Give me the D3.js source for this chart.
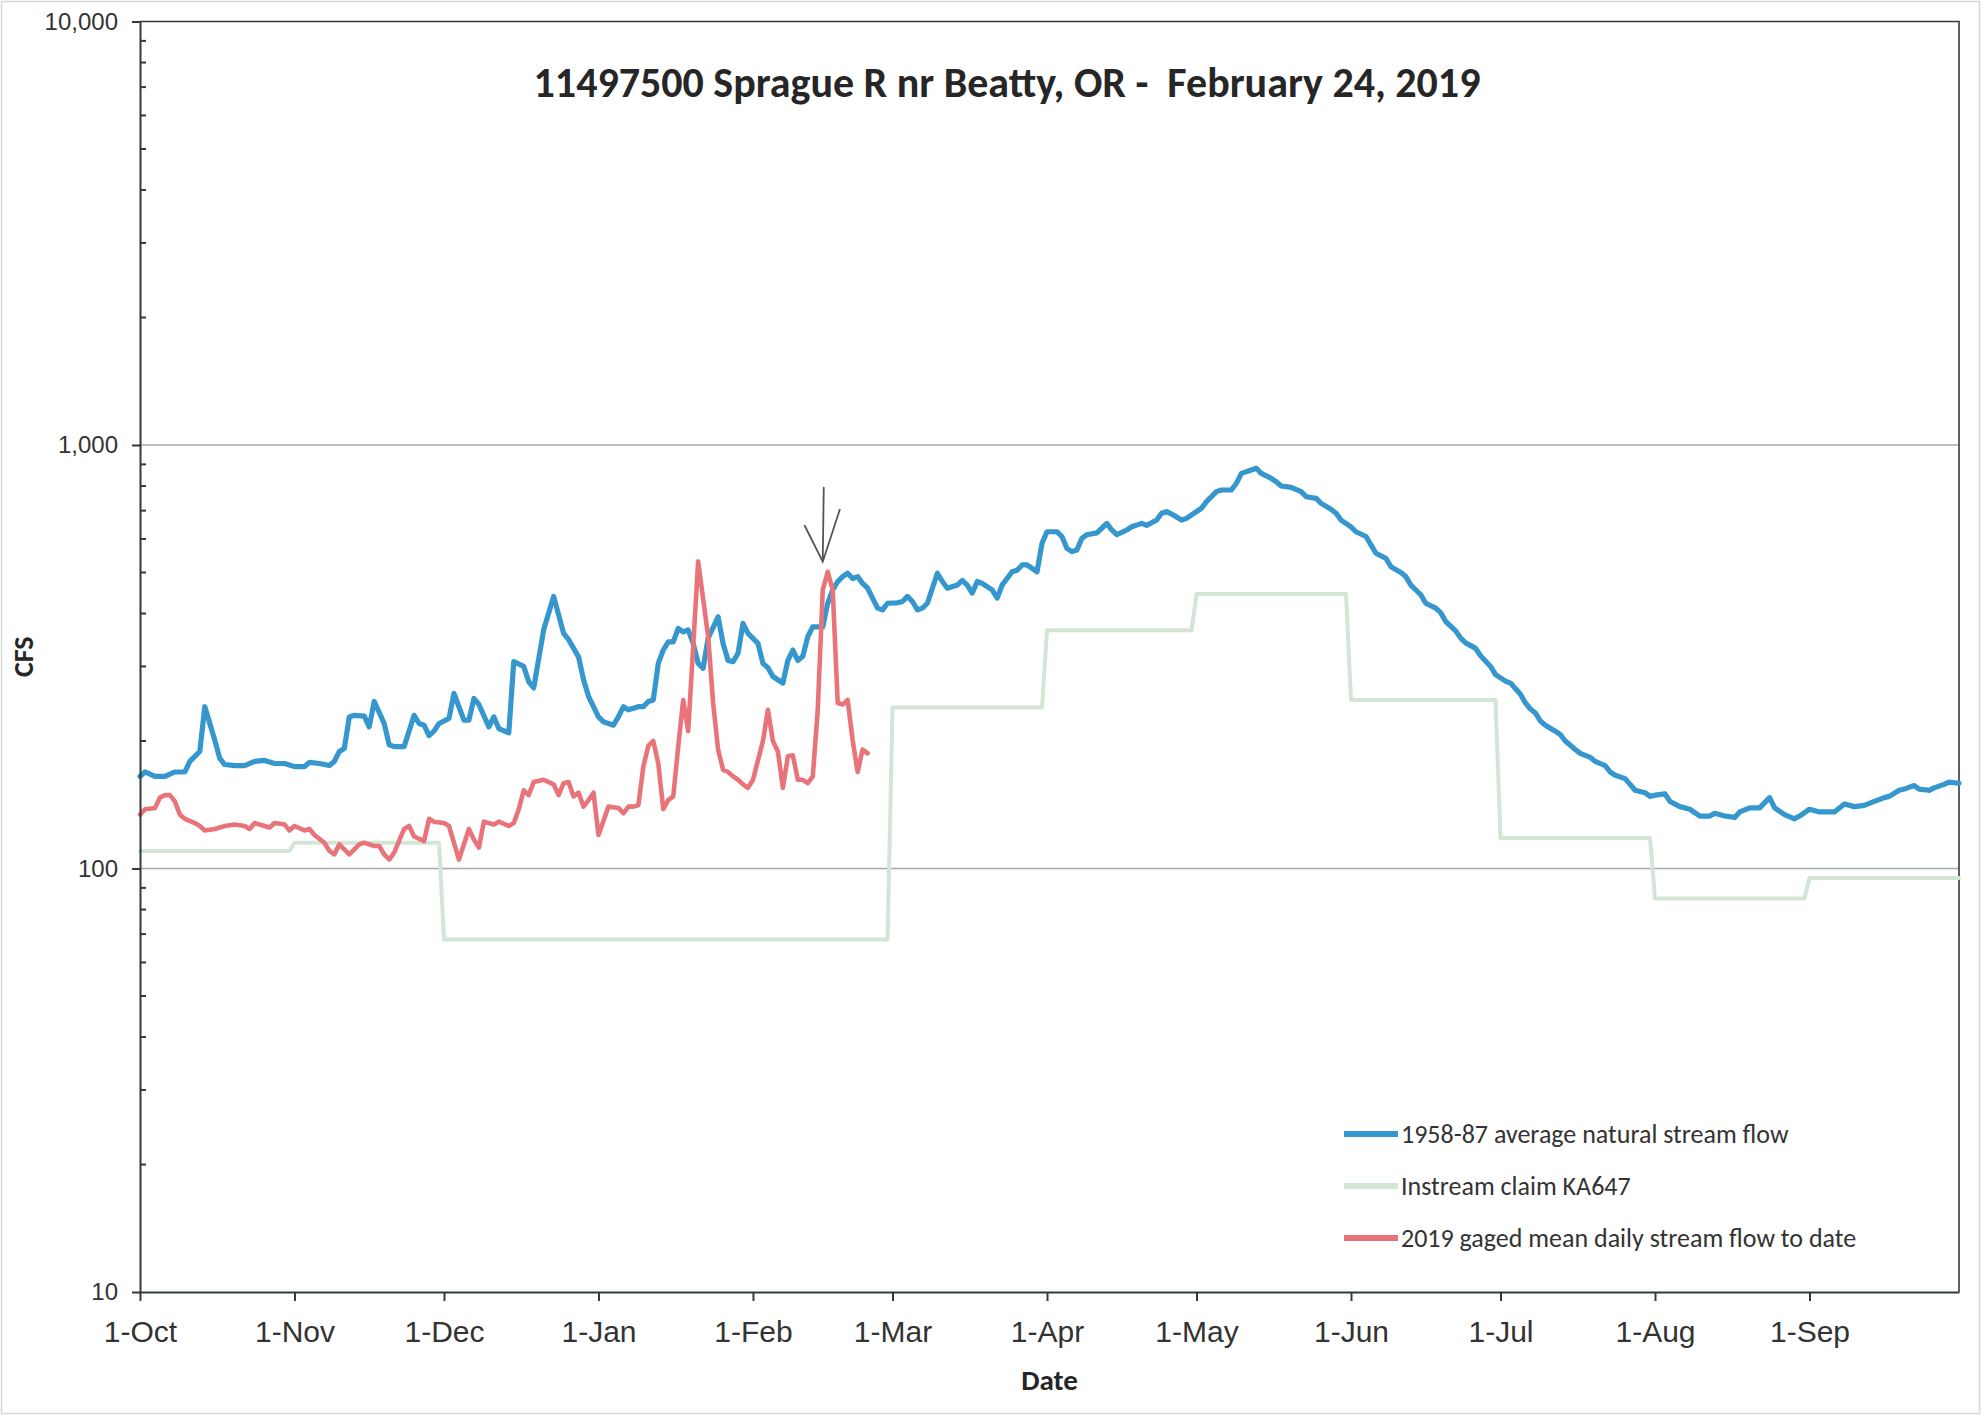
<!DOCTYPE html>
<html>
<head>
<meta charset="utf-8">
<script src="https://cdn.jsdelivr.net/npm/d3@7"></script>
<style>
  html, body { margin: 0; padding: 0; background: #fff; }
  svg { display: block; font-family: Carlito, Lato, sans-serif; }
</style>
</head>
<body>
<script>
// water year Oct 2018 - Sep 2019, days counted from 1-Oct
const waterYearStart = new Date(2018, 9, 1)
const waterYearEnd = new Date(2019, 9, 1)

// 1958-87 average natural stream flow (day, cfs)
const avgDay = [0,1,3,5,7,9,10,12,13,15,16,17,19,21,23,25,27,29,31,33,34,36,38,39,40,41,42,43,45,46,47,49,50,51,53,55,56,57,58,59,60,62,63,65,66,67,68,70,71,72,74,75,77,78,79,81,83,85,86,88,89,90,92,93,95,96,97,98,100,101,102,103,104,105,106,107,108,109,110,111,112,113,114,116,117,118,119,120,121,122,124,125,126,127,128,129,130,131,132,133,134,135,137,138,139,140,141,142,143,144,145,146,147,148,149,150,152,153,154,155,156,157,158,160,161,162,164,165,166,167,168,169,171,172,173,175,176,177,178,180,181,182,184,185,186,187,188,189,190,192,193,194,195,196,198,199,201,202,204,205,206,207,209,210,211,213,214,216,217,219,220,221,223,224,225,227,228,229,231,233,234,236,237,239,240,241,243,244,246,247,248,250,251,253,254,255,257,258,260,261,262,264,265,266,268,269,271,272,274,275,277,278,279,280,281,282,284,285,286,288,289,290,291,292,294,295,296,298,299,300,302,303,304,306,307,309,311,313,315,316,318,320,321,323,325,327,328,330,332,333,335,337,339,340,342,344,346,348,350,351,353,354,356,357,359,360,362,363,365]
const avgCfs = [165,169,165,165,169,169,179,189,241,201,182,176,175,175,179,180,177,177,174,174,178,177,175,179,189,192,228,230,229,216,248,220,196,194,194,230,220,218,206,211,220,226,259,224,224,252,244,216,228,214,209,308,300,276,267,366,439,359,347,316,279,255,228,222,218,228,241,237,241,241,248,250,305,328,343,343,369,362,366,340,305,297,350,393,340,310,308,322,379,359,340,305,298,284,279,274,310,328,310,317,353,372,372,423,455,476,489,498,484,489,471,459,435,412,408,423,424,427,439,427,408,412,423,498,476,459,467,479,467,447,476,471,455,435,467,502,506,521,521,502,586,624,624,608,570,560,565,602,614,620,636,653,630,614,630,641,653,646,665,690,696,687,665,671,684,709,735,776,783,783,812,857,873,881,857,834,819,800,794,776,755,748,728,705,690,665,641,624,608,581,555,540,516,500,489,467,443,423,412,402,383,364,350,341,331,318,300,287,277,274,258,246,238,233,223,218,211,207,200,191,187,185,183,179,175,169,166,163,158,153,151,148,149,150,144,140,138,133,133,135,133,132,136,139,139,147,139,134,131,133,138,136,136,136,142,140,141,144,147,148,153,154,157,154,153,155,158,160,159]

// 2019 gaged mean daily stream flow to date (day, cfs)
const gagedDay = [0,1,3,4,5,6,7,8,9,11,12,13,15,17,19,21,22,23,25,26,27,29,30,31,33,34,35,37,38,39,40,41,42,44,45,46,47,48,49,50,51,53,54,55,57,58,59,61,62,63,64,66,67,68,69,70,71,72,74,75,76,77,78,79,81,82,83,84,85,86,87,88,89,90,91,92,94,96,97,98,99,100,101,102,103,104,105,106,107,108,109,110,111,112,114,115,116,117,118,119,120,121,122,123,125,126,127,128,129,130,131,132,133,134,135,136,137,138,139,140,141,142,143,144,145,146]
const gagedCfs = [134,138,139,147,149,149,144,134,131,128,126,123,124,126,127,126,124,128,126,125,128,127,123,126,123,124,120,115,110,108,114,111,108,114,115,114,113,113,108,105,109,124,126,119,116,131,129,128,126,115,105,124,117,112,129,128,127,129,126,128,138,153,149,160,162,160,158,149,159,160,148,151,140,145,151,120,140,139,135,140,140,141,174,195,200,177,138,145,148,194,250,211,334,531,353,246,191,171,169,165,162,158,155,162,200,237,200,189,155,184,185,162,162,159,165,237,455,502,455,246,244,250,201,169,191,187]

// instream claim KA647, one level per month
const claimMonths = ['Oct','Nov','Dec','Jan','Feb','Mar','Apr','May','Jun','Jul','Aug','Sep']
const claimCfs = [110,115,68,68,68,240,365,445,250,118,85,95]

// y axis
const yMajorTicks = [10, 100, 1000, 10000]
const yGridTicks = [100, 1000]

const legendLabels = [
  '1958-87 average natural stream flow',
  'Instream claim KA647',
  '2019 gaged mean daily stream flow to date'
]
const titleText = '11497500 Sprague R nr Beatty, OR -  February 24, 2019'
const markedDay = 137 // pencil arrow on the chart

const colors = {
  avg: '#3597cd',
  claim: '#d3e5d4',
  gaged: '#e8747a',
  axis: '#333a3c',
  grid: '#a3abab',
  text: '#333'
}

const W = 1984, H = 1417
const plot = { left: 140, right: 1959, top: 21.5, bottom: 1292 }

const svg = d3.select('body').append('svg')
  .attr('width', W)
  .attr('height', H)

// outer page border of the chart object
svg.append('rect')
  .attr('x', 1.5).attr('y', 1.5)
  .attr('width', 1978).attr('height', 1412)
  .attr('fill', '#fff')
  .attr('stroke', '#d4d8d8')
  .attr('stroke-width', 1.5)

const x = d3.scaleTime()
  .domain([waterYearStart, waterYearEnd])
  .range([plot.left, plot.right])

const y = d3.scaleLog()
  .domain([10, 10000])
  .range([plot.bottom, plot.top])

const dayToDate = d => d3.timeDay.offset(waterYearStart, d)

// --- gridlines
svg.append('g').attr('class', 'grid')
  .selectAll('line')
  .data(yGridTicks)
  .enter()
  .append('line')
  .attr('x1', plot.left).attr('x2', plot.right)
  .attr('y1', d => y(d)).attr('y2', d => y(d))
  .attr('stroke', colors.grid)
  .attr('stroke-width', 1.6)

// top / right frame
svg.append('path')
  .attr('d', `M${plot.left},${y(10000)}H${plot.right}V${plot.bottom}`)
  .attr('fill', 'none')
  .attr('stroke', colors.axis)
  .attr('stroke-width', 1.6)

// --- series
const line = d3.line()
  .x(d => x(d.date))
  .y(d => y(d.cfs))

const avgData = avgDay.map((d, i) => ({ date: dayToDate(d), cfs: avgCfs[i] }))
const gagedData = gagedDay.map((d, i) => ({ date: dayToDate(d), cfs: gagedCfs[i] }))

// claim steps: first and last day of each month
const claimData = []
claimMonths.forEach((m, i) => {
  const start = d3.timeMonth.offset(waterYearStart, i)
  const next = d3.timeMonth.offset(waterYearStart, i + 1)
  const end = i === claimMonths.length - 1 ? next : d3.timeDay.offset(next, -1)
  claimData.push({ date: start, cfs: claimCfs[i] })
  claimData.push({ date: end, cfs: claimCfs[i] })
})

const series = [
  { key: 'claim', data: claimData, color: colors.claim, width: 4 },
  { key: 'avg', data: avgData, color: colors.avg, width: 5.2 },
  { key: 'gaged', data: gagedData, color: colors.gaged, width: 4.6 }
]

svg.append('g').attr('class', 'series')
  .selectAll('path')
  .data(series)
  .enter()
  .append('path')
  .attr('d', s => line(s.data))
  .attr('fill', 'none')
  .attr('stroke', s => s.color)
  .attr('stroke-width', s => s.width)
  .attr('stroke-linejoin', 'round')
  .attr('stroke-linecap', 'round')

// --- axes
const yAxis = d3.axisLeft(y)
  .tickValues(yMajorTicks)
  .tickFormat(d3.format(','))
  .tickSize(8)
  .tickSizeOuter(0)
  .tickPadding(14)

const gy = svg.append('g')
  .attr('transform', `translate(${plot.left},0)`)
  .call(yAxis)
gy.select('.domain').attr('stroke', colors.axis).attr('stroke-width', 2)
gy.selectAll('.tick line').attr('stroke', colors.axis).attr('stroke-width', 2)
gy.selectAll('.tick text')
  .attr('fill', colors.text)
  .style('font-size', '24px')

// minor ticks inside the axis (2..9 of each decade)
const minorTicks = []
for (let dec = 10; dec < 10000; dec *= 10) {
  for (let k = 2; k <= 9; k++) minorTicks.push(dec * k)
}
gy.append('g').selectAll('line')
  .data(minorTicks)
  .enter()
  .append('line')
  .attr('x1', 0).attr('x2', 6)
  .attr('y1', d => y(d)).attr('y2', d => y(d))
  .attr('stroke', colors.axis)
  .attr('stroke-width', 2)

const xAxis = d3.axisBottom(x)
  .tickValues(d3.timeMonth.range(waterYearStart, waterYearEnd))
  .tickFormat(d3.timeFormat('%-d-%b'))
  .tickSize(9)
  .tickSizeOuter(0)
  .tickPadding(20)

const gx = svg.append('g')
  .attr('transform', `translate(0,${plot.bottom})`)
  .call(xAxis)
gx.select('.domain').attr('stroke', colors.axis).attr('stroke-width', 2.2)
gx.selectAll('.tick line').attr('stroke', colors.axis).attr('stroke-width', 2)
gx.selectAll('.tick text')
  .attr('fill', colors.text)
  .style('font-size', '30px')

// --- titles
svg.append('text')
  .attr('x', 1007).attr('y', 97)
  .attr('text-anchor', 'middle')
  .attr('font-weight', 'bold')
  .attr('font-size', '42px')
  .attr('fill', '#262626')
  .style('white-space', 'pre')
  .text(titleText)

svg.append('text')
  .attr('x', (plot.left + plot.right) / 2).attr('y', 1390)
  .attr('text-anchor', 'middle')
  .attr('font-weight', 'bold')
  .attr('font-size', '29px')
  .attr('fill', '#262626')
  .text('Date')

svg.append('text')
  .attr('transform', `translate(33,${(plot.top + plot.bottom) / 2}) rotate(-90)`)
  .attr('text-anchor', 'middle')
  .attr('font-weight', 'bold')
  .attr('font-size', '28px')
  .attr('fill', '#262626')
  .text('CFS')

// --- legend
const legendColors = [colors.avg, colors.claim, colors.gaged]
const legend = svg.append('g')
  .attr('transform', 'translate(1344,1134)')
const item = legend.selectAll('g')
  .data(legendLabels)
  .enter()
  .append('g')
  .attr('transform', (d, i) => `translate(0,${i * 52})`)
item.append('line')
  .attr('x1', 0).attr('x2', 54)
  .attr('stroke', (d, i) => legendColors[i])
  .attr('stroke-width', 6)
item.append('text')
  .attr('x', 57)
  .attr('dy', '0.35em')
  .attr('font-size', '26px')
  .attr('fill', colors.text)
  .text(d => d)

// --- pencil arrow pointing at the recent peak
const peakCfs = gagedCfs[gagedDay.indexOf(markedDay + 1)]
const tipX = x(dayToDate(markedDay))
const tipY = y(peakCfs) - 10
svg.append('path')
  .attr('d', `M${tipX + 1},${tipY - 74}L${tipX},${tipY}M${tipX - 18},${tipY - 36}L${tipX},${tipY}L${tipX + 17},${tipY - 52}`)
  .attr('fill', 'none')
  .attr('stroke', '#555')
  .attr('stroke-width', 1.8)
  .attr('stroke-linecap', 'round')
</script>
</body>
</html>
